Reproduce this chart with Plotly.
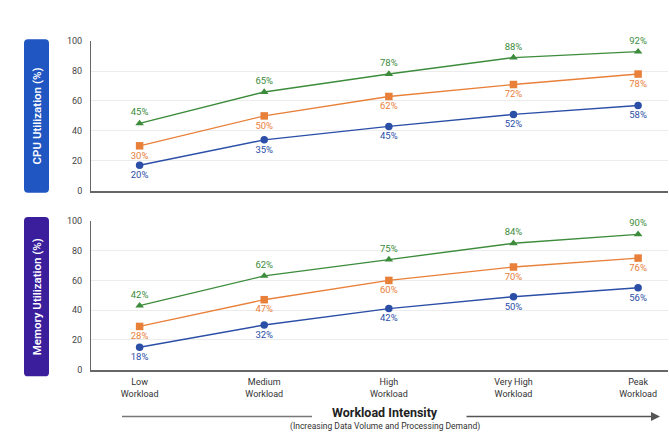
import plotly.graph_objects as go

W, H = 669, 439

categories = ["Low<br>Workload", "Medium<br>Workload", "High<br>Workload",
              "Very High<br>Workload", "Peak<br>Workload"]

cpu_blue = [17, 34, 43, 51, 57]
cpu_blue_labels = ["20%", "35%", "45%", "52%", "58%"]
cpu_orange = [30, 50, 63, 71, 78]
cpu_orange_labels = ["30%", "50%", "62%", "72%", "78%"]
cpu_green = [45, 66, 78, 89, 93]
cpu_green_labels = ["45%", "65%", "78%", "88%", "92%"]

mem_blue = [15, 30, 41, 49, 55]
mem_blue_labels = ["18%", "32%", "42%", "50%", "56%"]
mem_orange = [29, 47, 60, 69, 75]
mem_orange_labels = ["28%", "47%", "60%", "70%", "76%"]
mem_green = [43, 63, 74, 85, 91]
mem_green_labels = ["42%", "62%", "75%", "84%", "90%"]

yticks = [0, 20, 40, 60, 80, 100]

BLUE = "#2b4ea6"
ORANGE = "#e8803a"
GREEN = "#3c8c3c"


def px_x(x):
    return x / W


def px_y(y):
    return 1 - y / H


fig = go.Figure()


def add_series(vals, labels, color, symbol, pos, xa, ya, msize=7.5):
    fig.add_trace(go.Scatter(
        x=categories, y=vals, text=labels, mode="lines+markers+text",
        textposition=pos, textfont=dict(size=9.5, color=color, family="Roboto"),
        line=dict(color=color, width=1.4),
        marker=dict(color=color, symbol=symbol, size=msize),
        xaxis=xa, yaxis=ya, showlegend=False, cliponaxis=False,
    ))


add_series(cpu_blue, cpu_blue_labels, BLUE, "circle", "bottom center", "x", "y")
add_series(cpu_orange, cpu_orange_labels, ORANGE, "square", "bottom center", "x", "y")
add_series(cpu_green, cpu_green_labels, GREEN, "triangle-up", "top center", "x", "y")
add_series(mem_blue, mem_blue_labels, BLUE, "circle", "bottom center", "x2", "y2")
add_series(mem_orange, mem_orange_labels, ORANGE, "square", "bottom center", "x2", "y2")
add_series(mem_green, mem_green_labels, GREEN, "triangle-up", "top center", "x2", "y2")

xdom = [px_x(91), px_x(668)]
xcommon = dict(domain=xdom, type="category", range=[-0.39, 4.24],
               showgrid=False, showline=True, linecolor="#666", linewidth=1.5,
               ticks="", zeroline=False, ticklabelstandoff=3,
               tickfont=dict(size=9, color="#333", family="Roboto"))
ycommon = dict(range=[0, 100], tickvals=yticks, showgrid=True, gridcolor="#ececec",
               gridwidth=1, showline=True, linecolor="#666", linewidth=1,
               ticks="", zeroline=False, ticklabelstandoff=6,
               tickfont=dict(size=9, color="#444", family="Roboto"))

fig.update_layout(
    width=W, height=H, margin=dict(l=0, r=0, t=0, b=0),
    paper_bgcolor="white", plot_bgcolor="white",
    xaxis=dict(xcommon, anchor="y", showticklabels=False),
    yaxis=dict(ycommon, domain=[px_y(190), px_y(37)], anchor="x"),
    xaxis2=dict(xcommon, anchor="y2", showticklabels=True),
    yaxis2=dict(ycommon, domain=[px_y(373), px_y(221)], anchor="x2"),
)


def rounded_box(x0, y0, x1, y1, r, color):
    X0, X1 = px_x(x0), px_x(x1)
    Y0, Y1 = px_y(y1), px_y(y0)
    rx, ry = r / W, r / H
    path = (f"M {X0+rx},{Y0} L {X1-rx},{Y0} Q {X1},{Y0} {X1},{Y0+ry} "
            f"L {X1},{Y1-ry} Q {X1},{Y1} {X1-rx},{Y1} L {X0+rx},{Y1} "
            f"Q {X0},{Y1} {X0},{Y1-ry} L {X0},{Y0+ry} Q {X0},{Y0} {X0+rx},{Y0} Z")
    fig.add_shape(type="path", path=path, xref="paper", yref="paper",
                  fillcolor=color, line=dict(width=0), layer="below")


rounded_box(24, 35, 49, 192, 4, "#1f56c2")
rounded_box(24, 217, 49, 380, 4, "#3a1e9c")

fig.add_annotation(x=px_x(36.5), y=px_y(113.5), xref="paper", yref="paper",
                   xanchor="center", yanchor="middle",
                   text="CPU Utilization (%)", textangle=-90, showarrow=False,
                   font=dict(size=11.5, color="white", family="Roboto", weight=600))
fig.add_annotation(x=px_x(36.5), y=px_y(298.5), xref="paper", yref="paper",
                   xanchor="center", yanchor="middle",
                   text="Memory Utilization (%)", textangle=-90, showarrow=False,
                   font=dict(size=11.5, color="white", family="Roboto", weight=600))

fig.add_annotation(x=px_x(385), y=px_y(417), xref="paper", yref="paper",
                   xanchor="center", yanchor="middle",
                   text="<b>Workload Intensity</b>", showarrow=False,
                   font=dict(size=12.5, color="#222", family="Roboto"))
fig.add_annotation(x=px_x(385), y=px_y(431), xref="paper", yref="paper",
                   xanchor="center", yanchor="middle",
                   text="(Increasing Data Volume and Processing Demand)", showarrow=False,
                   font=dict(size=8.5, color="#333", family="Roboto"))

fig.add_shape(type="line", xref="paper", yref="paper",
              x0=px_x(122), x1=px_x(312), y0=px_y(421), y1=px_y(421),
              line=dict(color="#777", width=1.5))
fig.add_annotation(x=px_x(660), y=px_y(421), ax=-195, ay=0,
                   xref="paper", yref="paper", axref="pixel", ayref="pixel",
                   text="", showarrow=True, arrowhead=2, arrowsize=1.2,
                   arrowwidth=1.5, arrowcolor="#555")

fig.write_html("out.html")
